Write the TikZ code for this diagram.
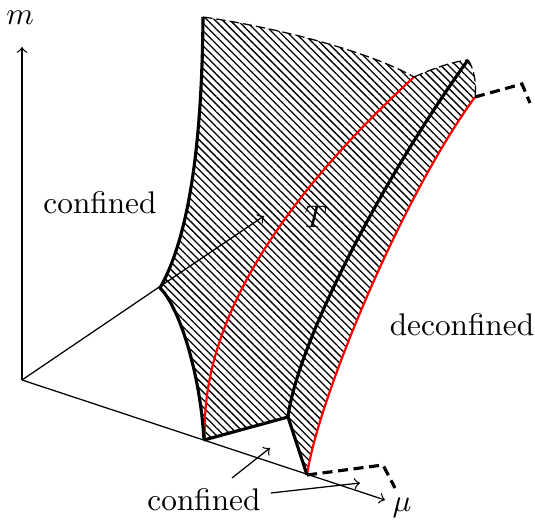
\documentclass[tikz,border=0pt]{standalone}
\usetikzlibrary{patterns.meta}
\begin{document}
\begin{tikzpicture}[x=0.3195pt,y=-0.3195pt,
  axis/.style={line width=0.4pt,->},
  bound/.style={line width=1pt,line join=round},
  redline/.style={red,line width=0.7pt},
  thindash/.style={line width=0.4pt,dash pattern=on 3pt off 1.3pt},
  thickdash/.style={line width=1pt,dash pattern=on 3.2pt off 1.8pt},
  hatch/.style={pattern={Lines[angle=-45,distance=1.7pt,line width=0.42pt]}},
  lbl/.style={inner sep=0pt}]
\useasboundingbox (0,0) rectangle (535,520);
% key points
\coordinate (O) at (22,380);
\coordinate (A) at (203,17);
\coordinate (V) at (160,288);
\coordinate (B) at (204,440);
\coordinate (Br) at (205,440);
\coordinate (C) at (288,417);
\coordinate (D) at (307,475);
\coordinate (E) at (475,97);
\coordinate (F) at (468,60);
\coordinate (G) at (414,77);
\coordinate (mtip) at (22,47);
\coordinate (mutip) at (385,500);
\coordinate (Ttip) at (264,216);
% hatched surface
\fill[hatch] (A)
  .. controls (202,140) and (190,235) .. (V)
  .. controls (178,305) and (200,370) .. (B)
  -- (C) -- (D)
  .. controls (318,400) and (400,200) .. (E)
  .. controls (477,85) and (474,68) .. (F)
  .. controls (450,62) and (430,70) .. (G)
  .. controls (370,52) and (280,28) .. (A)
  -- cycle;
% axes
\draw[axis] (O) -- (mtip);
\draw[axis] (O) -- (mutip);
\draw[axis] (O) -- (Ttip);
% red curves
\draw[redline] (Br) .. controls (200,330) and (270,210) .. (G);
\draw[redline] (D) .. controls (318,400) and (400,200) .. (E);
% black boundaries
\draw[bound] (A) .. controls (202,140) and (190,235) .. (V)
  .. controls (178,305) and (200,370) .. (B);
\draw[bound] (B) -- (C) -- (D);
\draw[bound] (C) .. controls (298,340) and (385,175) .. (F);
% dashed top boundary
\draw[thindash] (A) .. controls (280,28) and (370,52) .. (G);
\draw[thindash] (G) .. controls (430,70) and (450,62) .. (F);
\draw[thindash] (F) .. controls (474,68) and (477,85) .. (E);
% thick dashed continuations
\coordinate (E1) at (522,84);
\coordinate (E2) at (530,103);
\coordinate (D1) at (383,465);
\coordinate (D2) at (395,488);
\draw[thickdash] (E) -- (E1) -- (E2);
\draw[thickdash] (D) -- (D1) -- (D2);
% labels
\node[lbl] (mlab) at (20,18) {$m$};
\node[lbl] (mulab) at (402,508) {$\mu$};
\node[lbl] (Tlab) at (316,217) {$T$};
\node[lbl] (conf1) at (100,203) {confined};
\node[lbl] (deconf) at (462,325) {deconfined};
\node[lbl] (conf2) at (204,500) {confined};
% pointer arrows
\coordinate (p1) at (270,448);
\coordinate (p2) at (360,483);
\coordinate (q1) at (232,478);
\coordinate (q2) at (271,493);
\draw[axis] (q1) -- (p1);
\draw[axis] (q2) -- (p2);
\end{tikzpicture}
\end{document}
